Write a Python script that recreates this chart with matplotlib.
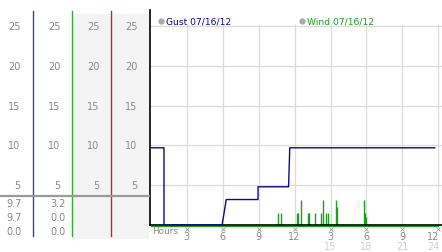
import matplotlib
matplotlib.use("Agg")
import matplotlib.pyplot as plt
import matplotlib.transforms as mtransforms

# ---------------------------------------------------------------------------
# datos
# ---------------------------------------------------------------------------
gust_hours = [0.0, 1.1, 1.1, 5.95, 6.3, 8.95, 8.95, 11.5, 11.6, 23.7]
gust_values = [9.7, 9.7, 0.0, 0.0, 3.2, 3.2, 4.8, 4.8, 9.7, 9.7]

wind_hours = [10.64, 10.84, 12.18, 12.31, 12.51, 13.15, 13.23, 13.7, 14.2,
              14.4, 14.6, 14.77, 15.46, 15.57, 17.8, 17.9, 18.0]
wind_values = [1.5, 1.5, 1.5, 1.5, 3.2, 1.5, 1.5, 1.5, 1.5,
               3.2, 1.5, 1.5, 3.2, 2.2, 3.2, 1.5, 1.0]
wind_span = [0.0, 24.0]

y_ticks = [5, 10, 15, 20, 25]
x_ticks = [3, 6, 9, 12, 15, 18, 21, 24]
x_labels = ["3", "6", "9", "12", "3", "6", "9", "12"]
x_labels_24h = {15: "15", 18: "18", 21: "21", 24: "24"}

gust_stats = ["9.7", "9.7", "0.0"]
wind_stats = ["3.2", "0.0", "0.0"]

GUST_COLOR = "#0a0a8a"
WIND_COLOR = "#1aa01a"
GRID_COLOR = "#dcdcdc"
LABEL_COLOR = "#8a8a8a"

W, H = 442, 253
fig = plt.figure(figsize=(W / 100, H / 100), dpi=100)

# eje principal: x de 149.5 a 442 px, y=0 en px 226, 7.96 px por unidad
left_px, bottom_px = 149.5, 226.0
ppu = 7.96
hour_px = 11.98
x0_px = 150.8
ymax = (bottom_px - 11.0) / ppu
ax = fig.add_axes([left_px / W, (H - bottom_px) / H,
                   (W - left_px) / W, (bottom_px - 11.0) / H])
ax.set_xlim((left_px - x0_px) / hour_px, (W - x0_px) / hour_px)
ax.set_ylim(0, ymax)

for sp in ["top", "right"]:
    ax.spines[sp].set_visible(False)
ax.spines["left"].set_color("black")
ax.spines["bottom"].set_color("black")
ax.spines["left"].set_linewidth(1.2)
ax.spines["bottom"].set_linewidth(1.2)
ax.set_xticks([])
ax.set_yticks([])

# rejilla
for yv in y_ticks:
    ax.axhline(yv, color=GRID_COLOR, lw=0.9, zorder=0)
ax.vlines(x_ticks, 0, 25.3, color=GRID_COLOR, lw=0.9, zorder=0)

# series
ax.vlines(wind_hours, 0, wind_values, color=WIND_COLOR, lw=1.0, zorder=2)
off = mtransforms.offset_copy(ax.transData, fig=fig, x=0, y=-1.2, units="dots")
ax.plot(wind_span, [0, 0], color=WIND_COLOR, lw=0.9, transform=off,
        clip_on=False, zorder=1)
ax.plot(gust_hours, gust_values, color=GUST_COLOR, lw=1.0, zorder=3)

# leyenda
ax.plot([0.85], [25.6], "o", ms=3.5, color="#aaaaaa", clip_on=False)
ax.text(1.25, 25.6, "Gust 07/16/12", color=GUST_COLOR, fontsize=6.6,
        va="center", ha="left")
ax.plot([12.6], [25.6], "o", ms=3.5, color="#aaaaaa", clip_on=False)
ax.text(13.0, 25.6, "Wind 07/16/12", color=WIND_COLOR, fontsize=6.6,
        va="center", ha="left")

# marcas pequenas del eje y
tr_y = mtransforms.blended_transform_factory(fig.transFigure, ax.transData)
for yv in y_ticks:
    ax.plot([146.5 / W], [yv], "x", ms=2.2, mew=0.6, color="#999999",
            transform=tr_y, clip_on=False)

# etiquetas del eje x
tr_x = mtransforms.blended_transform_factory(ax.transData, fig.transFigure)
ax.text(0.15, (H - 231.5) / H, "Hours", color=LABEL_COLOR, fontsize=6.4,
        ha="left", va="center", transform=tr_x)
for xv, lab in zip(x_ticks, x_labels):
    xt = xv - 0.4 if xv == 24 else xv
    ax.plot([xv], [(H - 229.5) / H], "x", ms=2.2, mew=0.6, color="#999999",
            transform=tr_x, clip_on=False)
    ax.text(xt, (H - 237.5) / H, lab, color=LABEL_COLOR, fontsize=7,
            ha="center", va="center", transform=tr_x)
    if xv in x_labels_24h:
        ax.text(xt, (H - 247.5) / H, x_labels_24h[xv], color="#d0d0d0",
                fontsize=7, ha="center", va="center", transform=tr_x)

# panel izquierdo en coordenadas de pixel
axl = fig.add_axes([0, 0, left_px / W, 1])
axl.set_xlim(0, left_px)
axl.set_ylim(H, 0)
axl.axis("off")

axl.fill_between([72.3, 111], 15, 240, color="#f4f4f4", lw=0)
axl.fill_between([111, 149], 15, 240, color="#f4f4f4", lw=0)
axl.plot([33.3, 33.3], [12, 237], color="#2a4aa8", lw=1.0)
axl.plot([72.3, 72.3], [12, 237], color="#33a833", lw=1.0)
axl.plot([111, 111], [12, 237], color="#b03030", lw=1.0)
axl.plot([0, 149.5], [197, 197], color="#9a9a9a", lw=1.6)

tr_l = mtransforms.blended_transform_factory(axl.transData, ax.transData)
for xr in [20.5, 60.5, 99.5, 137.5]:
    for yv in y_ticks:
        axl.text(xr, yv, str(yv), color=LABEL_COLOR, fontsize=7,
                 ha="right", va="center", transform=tr_l)

for i, (g, w) in enumerate(zip(gust_stats, wind_stats)):
    yp = [204, 218.5, 232][i]
    axl.text(22, yp, g, color=LABEL_COLOR, fontsize=7, ha="right", va="center")
    axl.text(66, yp, w, color=LABEL_COLOR, fontsize=7, ha="right", va="center")

fig.savefig("out.png", dpi=100)
